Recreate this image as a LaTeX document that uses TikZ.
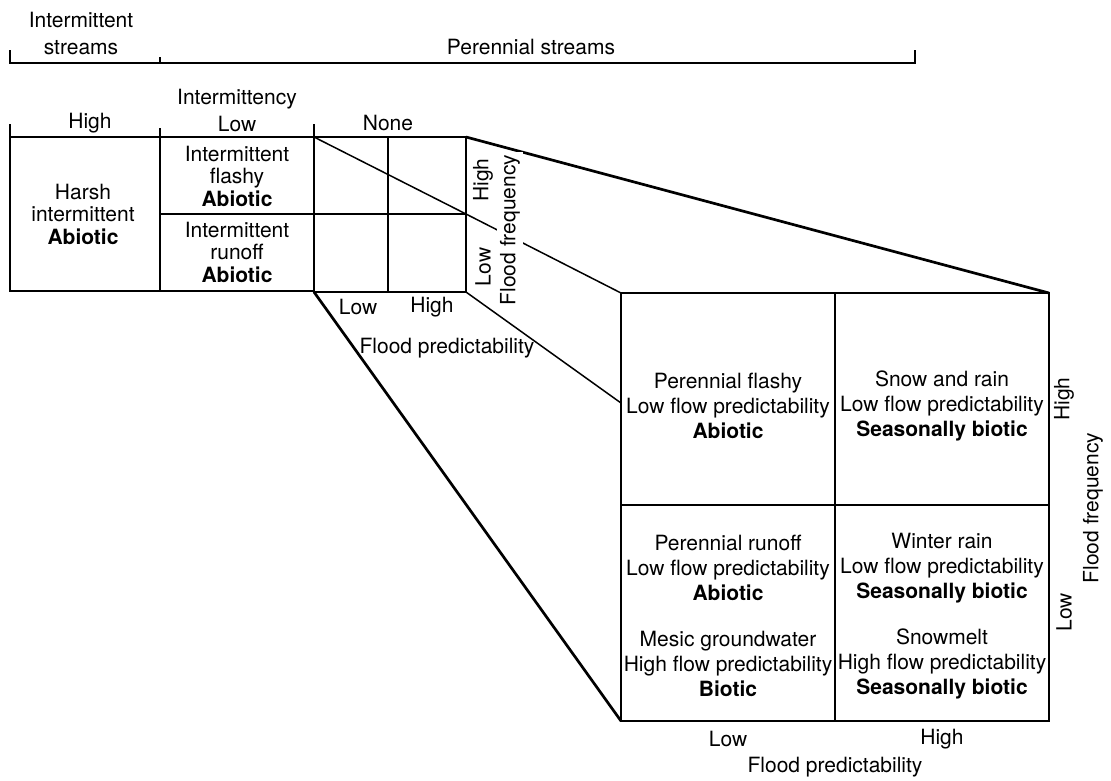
\documentclass[tikz,border=0pt]{standalone}
\usepackage{fontspec}
\setmainfont{TeX Gyre Heros}
\begin{document}
\begin{tikzpicture}[x=1pt,y=-1pt,
    every node/.style={font=\fontsize{21}{25}\selectfont, align=center, inner sep=1pt},
    tight/.style={font=\fontsize{21}{22.5}\selectfont},
    head/.style={font=\fontsize{21}{27}\selectfont},
    thinline/.style={line width=1.5pt},
    frame/.style={line width=2.1pt},
    proj/.style={line width=2.7pt}]
    \useasboundingbox (0,0) rectangle (1111,780);
    % corners of the small and the large grid
    \coordinate (snw) at (314,137);
    \coordinate (sne) at (466,137);
    \coordinate (se) at (466,214);
    \coordinate (sse) at (466,292);
    \coordinate (ssw) at (314,292);
    \coordinate (bnw) at (621,293);
    \coordinate (bne) at (1049,293);
    \coordinate (bw) at (621,403);
    \coordinate (bsw) at (621,721);
    \coordinate (bse) at (1049,721);
    % brackets along the top
    \draw[thinline] (10,50) -- (10,63) -- (915,63) -- (915,50);
    \draw[thinline] (160,57) -- (160,63);
    \draw[thinline] (10,124) -- (10,137);
    \draw[thinline] (160,128) -- (160,137);
    \draw[thinline] (314,124) -- (314,137);
    % intermittent boxes
    \draw[frame] (10,137) rectangle (160,291);
    \draw[frame] (160,137) rectangle (314,291);
    \draw[thinline] (160,214) -- (314,214);
    % small grid
    \draw[frame] (snw) rectangle (sse);
    \draw[thinline] (388,137) -- (388,292);
    \draw[thinline] (314,214) -- (se);
    % large grid
    \draw[frame] (bnw) rectangle (bse);
    \draw[frame] (835,293) -- (835,721);
    \draw[frame] (621,505) -- (1049,505);
    % projection lines
    \draw[proj] (sne) -- (bne);
    \draw[proj] (ssw) -- (bsw);
    \draw[thinline] (snw) -- (se) -- (bnw);
    \draw[thinline] (sse) -- (bw);
    % headings
    \node[head] (istreams) at (81,33) {Intermittent\\streams};
    \node (pstreams) at (531,47) {Perennial streams};
    \node[head] (intlow) at (237,110) {Intermittency\\Low};
    \node (inthigh) at (90,123) {High};
    \node (intnone) at (388,123) {None};
    % intermittent cells
    \node[tight] (harsh) at (83,214) {Harsh\\intermittent\\\textbf{Abiotic}};
    \node[tight] (iflashy) at (237,176) {Intermittent\\flashy\\\textbf{Abiotic}};
    \node[tight] (irunoff) at (237,252) {Intermittent\\runoff\\\textbf{Abiotic}};
    % axes of the small grid
    \node (slow) at (358,307) {Low};
    \node (shigh) at (432,307) {High};
    \node (spred) at (447,348) {Flood predictability};
    \node[rotate=90] (sfhigh) at (483,180) {High};
    \node[rotate=90] (sflow) at (483,267) {Low};
    \node[rotate=90, fill=white, inner sep=3pt] (sfreq) at (510,230) {Flood frequency};
    % large grid cells
    \node (pflashy) at (728,406) {Perennial flashy\\Low flow predictability\\\textbf{Abiotic}};
    \node (snowrain) at (942,406) {Snow and rain\\Low flow predictability\\\textbf{Seasonally biotic}};
    \node (prunoff) at (728,568) {Perennial runoff\\Low flow predictability\\\textbf{Abiotic}};
    \node (winter) at (942,568) {Winter rain\\Low flow predictability\\\textbf{Seasonally biotic}};
    \node (mesic) at (728,664) {Mesic groundwater\\High flow predictability\\\textbf{Biotic}};
    \node (snowmelt) at (942,664) {Snowmelt\\High flow predictability\\\textbf{Seasonally biotic}};
    % axes of the large grid
    \node (blow) at (728,739) {Low};
    \node (bhigh) at (942,739) {High};
    \node (bpred) at (835,767) {Flood predictability};
    \node[rotate=90] (bfhigh) at (1064,399) {High};
    \node[rotate=90] (bflow) at (1064,612) {Low};
    \node[rotate=90] (bfreq) at (1093,508) {Flood frequency};
\end{tikzpicture}
\end{document}
